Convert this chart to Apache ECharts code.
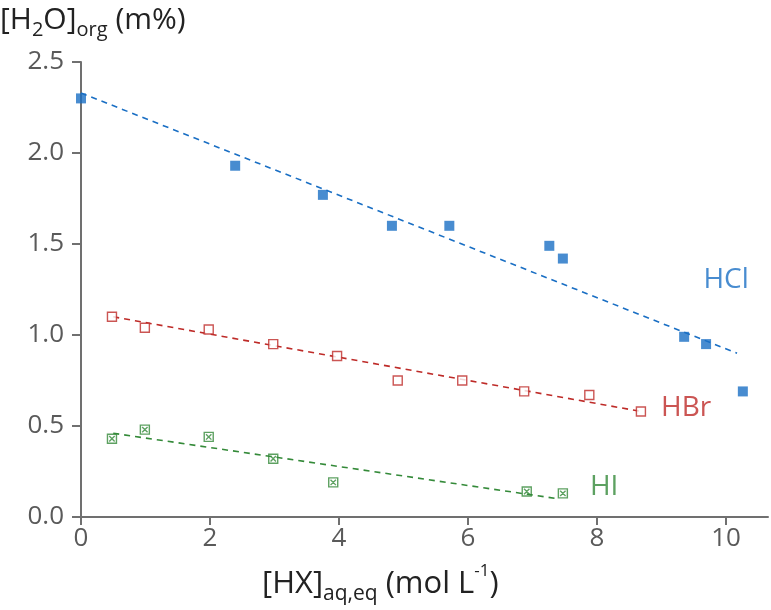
<!DOCTYPE html>
<html>
<head>
<meta charset="utf-8">
<script src="https://cdn.jsdelivr.net/npm/echarts@6/dist/echarts.min.js"></script>
<style>html,body{margin:0;padding:0;background:#fff}#c{width:771px;height:610px}</style>
</head>
<body>
<div id="c"></div>
<script>
// ---- data ----
var hclX = [0, 2.39, 3.75, 4.82, 5.71, 7.26, 7.47, 9.35, 9.69, 10.26];
var hclY = [2.30, 1.93, 1.77, 1.60, 1.60, 1.49, 1.42, 0.99, 0.95, 0.69];
var hbrX = [0.48, 0.99, 1.98, 2.98, 3.97, 4.91, 5.91, 6.87, 7.88, 8.68];
var hbrY = [1.10, 1.04, 1.03, 0.95, 0.885, 0.75, 0.75, 0.69, 0.67, 0.58];
var hiX = [0.48, 0.99, 1.98, 2.98, 3.91, 6.91, 7.47];
var hiY = [0.43, 0.48, 0.44, 0.32, 0.19, 0.14, 0.13];
// trend lines (end points)
var hclFitX = [0, 10.17], hclFitY = [2.33, 0.90];
var hbrFitX = [0.5, 8.68], hbrFitY = [1.10, 0.58];
var hiFitX = [0.5, 7.4], hiFitY = [0.46, 0.10];
// annotation labels
var labelNames = ['HCl', 'HBr', 'HI'];
var labelX = [10.0, 9.38, 8.11];
var labelY = [1.30, 0.60, 0.165];
var xTicks = [0, 2, 4, 6, 8, 10];

var colors = ['#1a6fc4', '#be2b28', '#348a39'];
var FONT = '"Open Sans", "Noto Sans", sans-serif';

function zip(xs, ys) { return xs.map(function (x, i) { return [x, ys[i]]; }); }

var chart = echarts.init(document.getElementById('c'), null, { renderer: 'canvas' });
var hiSymbol = 'path://M0,0L10,0L10,10L0,10Z M2,2L8,8 M8,2L2,8';

var option = {
  animation: false,
  grid: { left: 81, right: 3, top: 62, bottom: 93, containLabel: false },
  xAxis: {
    type: 'value', min: 0, max: 10.65,
    axisLine: { show: true, lineStyle: { color: '#707070', width: 2 } },
    axisTick: { show: true, length: 8, customValues: xTicks, lineStyle: { color: '#707070', width: 2 } },
    axisLabel: { customValues: xTicks, fontSize: 26, color: '#5a5a5a', fontFamily: FONT, margin: 9 },
    splitLine: { show: false }
  },
  yAxis: {
    type: 'value', min: 0, max: 2.5, interval: 0.5,
    axisLine: { show: true, lineStyle: { color: '#707070', width: 2 } },
    axisTick: { show: true, length: 9, lineStyle: { color: '#707070', width: 2 } },
    axisLabel: { fontSize: 26, color: '#5a5a5a', fontFamily: FONT, margin: 17,
      formatter: function (v) { return v.toFixed(1); } },
    splitLine: { show: false }
  },
  graphic: [
    { type: 'text', left: 0, top: 0, style: {
      text: '[H{s|2}O]{s|org} (m%)', fill: '#222', font: '30px ' + FONT,
      rich: { s: { fontSize: 20, fontFamily: FONT, verticalAlign: 'bottom', lineHeight: 20, fill: '#222' } },
      lineHeight: 40 } },
    { type: 'text', left: 262, top: 563, style: {
      text: '[HX]{s|aq,eq} (mol L{p|-1})', fill: '#222', font: '31px ' + FONT,
      rich: {
        s: { fontSize: 21, fontFamily: FONT, verticalAlign: 'bottom', lineHeight: 21, fill: '#222' },
        p: { fontSize: 17, fontFamily: FONT, verticalAlign: 'top', lineHeight: 17, fill: '#222' }
      },
      lineHeight: 42 } }
  ],
  series: [
    { type: 'line', data: zip(hclFitX, hclFitY), symbol: 'none', lineStyle: { color: colors[0], width: 1.6, type: [6, 5] }, z: 1 },
    { type: 'line', data: zip(hbrFitX, hbrFitY), symbol: 'none', lineStyle: { color: colors[1], width: 1.6, type: [6, 5] }, z: 1 },
    { type: 'line', data: zip(hiFitX, hiFitY), symbol: 'none', lineStyle: { color: colors[2], width: 1.6, type: [6, 5] }, z: 1 },
    { type: 'scatter', data: zip(hclX, hclY), symbol: 'rect', symbolSize: 10, clip: false,
      itemStyle: { color: colors[0] }, z: 3 },
    { type: 'scatter', data: zip(hbrX, hbrY), symbol: 'rect', symbolSize: 9, clip: false,
      itemStyle: { color: '#fff', borderColor: colors[1], borderWidth: 1.4 }, z: 3 },
    { type: 'scatter', data: zip(hiX, hiY), symbol: hiSymbol, symbolSize: 9, clip: false,
      itemStyle: { color: 'rgba(0,0,0,0)', borderColor: colors[2], borderWidth: 1.4 }, z: 3 },
    { type: 'scatter', symbolSize: 0, silent: true, z: 4,
      data: labelNames.map(function (n, i) {
        return { value: [labelX[i], labelY[i]], name: n,
          label: { show: true, position: 'inside', formatter: n, color: colors[i],
            fontSize: 28, fontFamily: FONT } };
      }) }
  ]
};
chart.setOption(option);
</script>
</body>
</html>
